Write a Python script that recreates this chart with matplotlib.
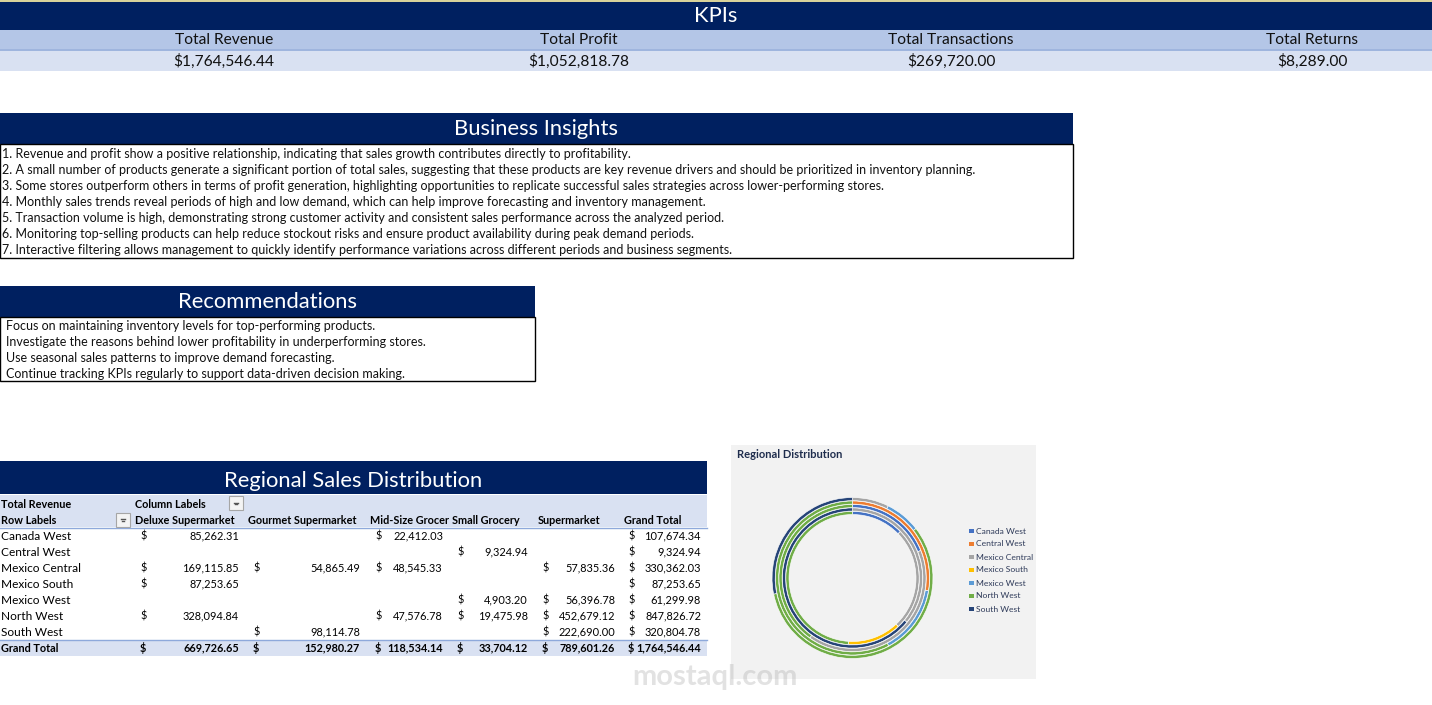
import numpy as np
import pandas as pd
import matplotlib
matplotlib.use("Agg")
import matplotlib.pyplot as plt
from matplotlib.patches import Rectangle

plt.rcParams["font.family"] = ["Lato", "DejaVu Sans"]

W, H = 1432, 705
NAVY = "#002060"
BLUE_MID = "#B4C6E7"
BLUE_LIGHT = "#D9E1F2"
BLUE_LINE = "#8EA9DB"

# ---- data -------------------------------------------------------------------
kpi_labels = ["Total Revenue", "Total Profit", "Total Transactions", "Total Returns"]
kpi_values = [1764546.44, 1052818.78, 269720.00, 8289.00]

insights = [
    "1. Revenue and profit show a positive relationship, indicating that sales growth contributes directly to profitability.",
    "2. A small number of products generate a significant portion of total sales, suggesting that these products are key revenue drivers and should be prioritized in inventory planning.",
    "3. Some stores outperform others in terms of profit generation, highlighting opportunities to replicate successful sales strategies across lower-performing stores.",
    "4. Monthly sales trends reveal periods of high and low demand, which can help improve forecasting and inventory management.",
    "5. Transaction volume is high, demonstrating strong customer activity and consistent sales performance across the analyzed period.",
    "6. Monitoring top-selling products can help reduce stockout risks and ensure product availability during peak demand periods.",
    "7. Interactive filtering allows management to quickly identify performance variations across different periods and business segments.",
]
recommendations = [
    "Focus on maintaining inventory levels for top-performing products.",
    "Investigate the reasons behind lower profitability in underperforming stores.",
    "Use seasonal sales patterns to improve demand forecasting.",
    "Continue tracking KPIs regularly to support data-driven decision making.",
]

regions = ["Canada West", "Central West", "Mexico Central", "Mexico South",
           "Mexico West", "North West", "South West"]
store_types = ["Deluxe Supermarket", "Gourmet Supermarket", "Mid-Size Grocer",
               "Small Grocery", "Supermarket"]
deluxe = [85262.31, None, 169115.85, 87253.65, None, 328094.84, None]
gourmet = [None, None, 54865.49, None, None, None, 98114.78]
midsize = [22412.03, None, 48545.33, None, None, 47576.78, None]
small_grocery = [None, 9324.94, None, None, 4903.20, 19475.98, None]
supermarket = [None, None, 57835.36, None, 56396.78, 452679.12, 222690.00]
region_colors = ["#4472C4", "#ED7D31", "#A5A5A5", "#FFC000", "#5B9BD5", "#70AD47", "#264478"]

sales = pd.DataFrame({"Deluxe Supermarket": deluxe, "Gourmet Supermarket": gourmet,
                      "Mid-Size Grocer": midsize, "Small Grocery": small_grocery,
                      "Supermarket": supermarket}, index=regions, dtype=float)
sales["Grand Total"] = sales.sum(axis=1)

# ---- canvas -----------------------------------------------------------------
fig = plt.figure(figsize=(W / 100, H / 100), dpi=100)
ax = fig.add_axes([0, 0, 1, 1])
ax.set_xlim(0, W); ax.set_ylim(H, 0); ax.axis("off")

FS_TITLE, FS_KPI, FS_BODY = 15.8, 11.2, 9.0
FS_TAB, FS_NUM, FS_TABB = 8.6, 7.9, 7.8


def box(x0, y0, x1, y1, fc, ec="none", lw=0, z=1):
    ax.add_patch(Rectangle((x0, y0), x1 - x0, y1 - y0, facecolor=fc,
                           edgecolor=ec, linewidth=lw, zorder=z))


def money(v):
    return f"{v:,.2f}"


# KPIs band
box(0, 0, W, 2, "#D8D29A")
box(0, 2, W, 30, NAVY)
ax.text(W / 2, 16.5, "KPIs", color="white", fontsize=FS_TITLE, ha="center", va="center", zorder=3)
box(0, 30, W, 48.5, BLUE_MID)
box(0, 48.5, W, 51, "#9FB5DE")
box(0, 51, W, 71, BLUE_LIGHT)
kpi_x = [224, 579, 951, 1312]
for x, lab, val in zip(kpi_x, kpi_labels, kpi_values):
    ax.text(x, 40, lab, fontsize=FS_KPI, ha="center", va="center", color="#111111", zorder=3)
    ax.text(x, 61, "$" + money(val), fontsize=FS_KPI, ha="center", va="center",
            color="#111111", zorder=3)

# Business insights
box(0, 113, 1073, 144, NAVY)
ax.text(536, 129, "Business Insights", color="white", fontsize=FS_TITLE, ha="center",
        va="center", zorder=3)
box(0, 144, 1073, 257.5, "white", ec="black", lw=1.0)
for i, line in enumerate(insights):
    ax.text(1.5, 154 + 16 * i, line, fontsize=FS_BODY, ha="left", va="center",
            color="#111111", zorder=3)

# Recommendations
box(0, 286, 535, 317, NAVY)
ax.text(267, 301.5, "Recommendations", color="white", fontsize=FS_TITLE, ha="center",
        va="center", zorder=3)
box(0, 317, 535, 380.5, "white", ec="black", lw=1.0)
for i, line in enumerate(recommendations):
    ax.text(6, 325.5 + 16 * i, line, fontsize=FS_BODY, ha="left", va="center",
            color="#111111", zorder=3)

# Regional sales pivot table
box(0, 461, 707, 494, NAVY)
ax.text(353, 481, "Regional Sales Distribution", color="white", fontsize=FS_TITLE,
        ha="center", va="center", zorder=3)
box(0, 495, 707, 527, BLUE_LIGHT)
ax.plot([0, 707], [527.5, 527.5], color=BLUE_LINE, lw=1.0, zorder=3)
box(0, 640, 707, 656, BLUE_LIGHT)
ax.plot([0, 707], [640, 640], color=BLUE_LINE, lw=1.0, zorder=3)

ax.text(1, 504, "Total Revenue", fontsize=FS_TABB, fontweight="bold", va="center", zorder=3)
ax.text(135, 504, "Column Labels", fontsize=FS_TABB, fontweight="bold", va="center", zorder=3)
ax.text(1, 520, "Row Labels", fontsize=FS_TABB, fontweight="bold", va="center", zorder=3)


def dropdown(x0, y0):
    box(x0, y0, x0 + 14, y0 + 14, "#F4F4F4", ec="#A6A6A6", lw=0.8, z=3)
    ax.plot([x0 + 5, x0 + 9], [y0 + 6.5, y0 + 6.5], color="#555555", lw=1.0, zorder=4)
    ax.plot([x0 + 6, x0 + 8], [y0 + 8, y0 + 8], color="#555555", lw=1.0, zorder=4)


dropdown(229, 496)
dropdown(116, 512.5)

col_head_x = [135, 248, 370, 452, 538, 624]
dollar_x = [140, 253, 375, 457, 542, 628]
value_right = [239, 360, 443, 528, 615, 701]
columns = list(sales.columns)
for j, col in enumerate(columns):
    ax.text(col_head_x[j], 520, col, fontsize=FS_TABB, fontweight="bold", va="center", zorder=3)

for i, reg in enumerate(regions):
    y = 536 + 16 * i
    ax.text(1, y, reg, fontsize=FS_TAB, va="center", zorder=3)
    for j, col in enumerate(columns):
        v = sales.loc[reg, col]
        if pd.notna(v):
            ax.text(dollar_x[j], y, "$", fontsize=FS_NUM, va="center", zorder=3)
            ax.text(value_right[j], y, money(v), fontsize=FS_NUM, ha="right", va="center", zorder=3)

totals = sales.sum(axis=0)
ax.text(1, 648, "Grand Total", fontsize=FS_TABB, fontweight="bold", va="center", zorder=3)
for j, col in enumerate(columns):
    ax.text(dollar_x[j], 648, "$", fontsize=FS_TABB, fontweight="bold", va="center", zorder=3)
    ax.text(value_right[j], 648, money(totals[col]), fontsize=FS_TABB, fontweight="bold",
            ha="right", va="center", zorder=3)

# Doughnut chart panel
box(731, 445, 1036, 679, "#F2F2F2")
ax.text(737, 454, "Regional Distribution", fontsize=8.0, fontweight="bold",
        color="#1F2D4D", va="center", zorder=3)
for i, (reg, c) in enumerate(zip(regions, region_colors)):
    y = 531 + 13 * i
    box(969, y - 2.2, 973.5, y + 2.2, c, z=3)
    ax.text(976.5, y, reg, fontsize=6.1, color="#2E3A59", va="center", zorder=3)

cx, cy, R = 852.5, 578, 80.5
dax = fig.add_axes([(cx - R) / W, (H - cy - R) / H, 2 * R / W, 2 * R / H])
dax.set_facecolor("none")
r_in = 0.785
step = (1.0 - r_in) / len(store_types)
for k, st in enumerate(store_types):
    vals = sales[st].fillna(0).values
    keep = vals > 0
    dax.pie(vals[keep], colors=np.array(region_colors)[keep], radius=r_in + step * (k + 1),
            startangle=90, counterclock=False,
            wedgeprops=dict(width=step * 0.92, edgecolor="white", linewidth=0.45))
dax.set_xlim(-1, 1); dax.set_ylim(-1, 1); dax.set_aspect("equal"); dax.axis("off")

# watermark
ax.text(715, 677, "mostaql.com", fontsize=21, fontweight="bold", color="#A0A0A0",
        alpha=0.3, ha="center", va="center", zorder=6)

fig.savefig("out.png", dpi=100)
